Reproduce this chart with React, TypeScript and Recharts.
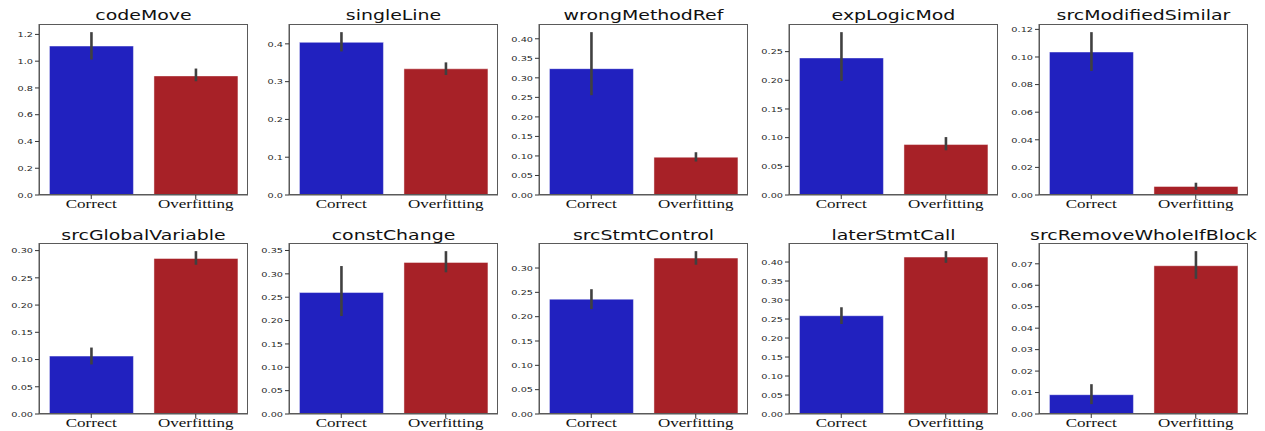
import { BarChart, Bar, Cell, XAxis, YAxis, ErrorBar } from 'recharts';

const titles = [
  'codeMove', 'singleLine', 'wrongMethodRef', 'expLogicMod', 'srcModifiedSimilar',
  'srcGlobalVariable', 'constChange', 'srcStmtControl', 'laterStmtCall', 'srcRemoveWholeIfBlock',
];
const categories = ['Correct', 'Overfitting'];

const correctMean = [1.113, 0.404, 0.3235, 0.239, 0.1036, 0.1063, 0.26, 0.236, 0.2587, 0.009];
const correctLow = [1.012, 0.38, 0.2555, 0.199, 0.0899, 0.091, 0.2097, 0.2156, 0.237, 0.0046];
const correctHigh = [1.217, 0.431, 0.417, 0.284, 0.118, 0.122, 0.3167, 0.2565, 0.281, 0.0139];

const overfitMean = [0.89, 0.334, 0.0968, 0.088, 0.0062, 0.2855, 0.3245, 0.3204, 0.4131, 0.0691];
const overfitLow = [0.85, 0.3175, 0.0857, 0.078, 0.0038, 0.274, 0.3033, 0.3068, 0.398, 0.063];
const overfitHigh = [0.945, 0.351, 0.1095, 0.101, 0.0089, 0.299, 0.3486, 0.3347, 0.4287, 0.0759];

const yTicks = [
  [0, 0.2, 0.4, 0.6, 0.8, 1.0, 1.2],
  [0, 0.1, 0.2, 0.3, 0.4],
  [0, 0.05, 0.1, 0.15, 0.2, 0.25, 0.3, 0.35, 0.4],
  [0, 0.05, 0.1, 0.15, 0.2, 0.25],
  [0, 0.02, 0.04, 0.06, 0.08, 0.1, 0.12],
  [0, 0.05, 0.1, 0.15, 0.2, 0.25, 0.3],
  [0, 0.05, 0.1, 0.15, 0.2, 0.25, 0.3, 0.35],
  [0, 0.05, 0.1, 0.15, 0.2, 0.25, 0.3],
  [0, 0.05, 0.1, 0.15, 0.2, 0.25, 0.3, 0.35, 0.4],
  [0, 0.01, 0.02, 0.03, 0.04, 0.05, 0.06, 0.07],
];
const tickDecimals = [1, 1, 2, 2, 2, 2, 2, 2, 2, 2];

const colors = ['#2121bf', '#a72127'];
const frame = '#5a5a5a';

const YTick = ({ x, y, payload, decimals }: any) => (
  <g transform={`translate(${x},${y})`}>
    <text
      x={0}
      y={0}
      dy="0.36em"
      textAnchor="end"
      transform="scale(1.28,1)"
      fontFamily="DejaVu Sans"
      fontSize={7.6}
      fill="#262626"
    >
      {Number(payload.value).toFixed(decimals)}
    </text>
  </g>
);

const XTick = ({ x, y, payload }: any) => (
  <g transform={`translate(${x},${y + 8.5})`}>
    <text
      x={0}
      y={0}
      textAnchor="middle"
      transform="scale(1.42,1)"
      fontFamily="Liberation Serif"
      fontSize={12}
      fill="#111"
    >
      {payload.value}
    </text>
  </g>
);

const Panel = ({ i }: { i: number }) => {
  const row = Math.floor(i / 5);
  const col = i % 5;
  const left = col * 250;
  const top = row === 0 ? 0 : 219;
  const data = [
    { name: categories[0], value: correctMean[i], err: [correctMean[i] - correctLow[i], correctHigh[i] - correctMean[i]] },
    { name: categories[1], value: overfitMean[i], err: [overfitMean[i] - overfitLow[i], overfitHigh[i] - overfitMean[i]] },
  ];
  const yMax = Math.max(correctHigh[i], overfitHigh[i]) * 1.05;

  return (
    <div style={{ position: 'absolute', left, top, width: 250, height: 215 }}>
      <div
        style={{
          position: 'absolute',
          left: 39,
          width: 209,
          top: row === 0 ? 6 : 7,
          textAlign: 'center',
          fontFamily: 'DejaVu Sans',
          fontSize: 13.5,
          lineHeight: '18px',
          color: '#111',
          transform: 'scaleX(1.4)',
          whiteSpace: 'nowrap',
        }}
      >
        {titles[i]}
      </div>
      <BarChart width={250} height={215} data={data} margin={{ top: 24, right: 2, bottom: 0, left: 0 }} barCategoryGap="10%">
        <XAxis
          dataKey="name"
          height={20}
          interval={0}
          tickSize={4}
          tickMargin={0}
          tickLine={{ stroke: '#333' }}
          axisLine={{ stroke: frame }}
          tick={<XTick />}
        />
        <YAxis
          type="number"
          width={39}
          domain={[0, yMax]}
          ticks={yTicks[i]}
          interval={0}
          allowDataOverflow
          tickSize={4}
          tickMargin={2}
          tickLine={{ stroke: '#333' }}
          axisLine={{ stroke: frame }}
          tick={<YTick decimals={tickDecimals[i]} />}
        />
        <Bar dataKey="value" isAnimationActive={false} stroke="#ffffff" strokeOpacity={0.45} strokeWidth={1}>
          {data.map((d, k) => (
            <Cell key={d.name} fill={colors[k]} />
          ))}
          <ErrorBar dataKey="err" width={0} stroke="#404040" strokeWidth={2.6} direction="y" isAnimationActive={false} />
        </Bar>
      </BarChart>
      <div
        style={{
          position: 'absolute',
          left: 39,
          top: 24,
          width: 209,
          height: 171,
          boxSizing: 'border-box',
          border: `1px solid ${frame}`,
          pointerEvents: 'none',
        }}
      />
    </div>
  );
};

export default function App() {
  return (
    <div style={{ position: 'absolute', left: 0, top: 0, width: 1265, height: 431, background: '#fff', overflow: 'hidden' }}>
      {titles.map((t, i) => (
        <Panel key={t} i={i} />
      ))}
    </div>
  );
}
